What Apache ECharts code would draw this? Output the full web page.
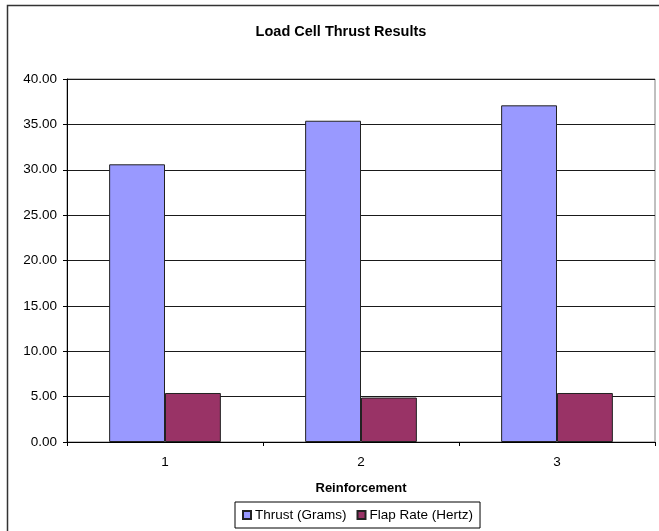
<!DOCTYPE html>
<html>
<head>
<meta charset="utf-8">
<style>
  html, body { margin: 0; padding: 0; background: #fff; }
  #chart { width: 659px; height: 531px; }
</style>
<script src="https://cdn.jsdelivr.net/npm/echarts@6/dist/echarts.min.js"></script>
</head>
<body>
<div id="chart"></div>
<script>
// Load cell measurements per reinforcement configuration
const categories = ['1', '2', '3'];
const thrustGrams = [30.6, 35.4, 37.1];
const flapRateHertz = [5.4, 4.9, 5.4];
const seriesNames = ['Thrust (Grams)', 'Flap Rate (Hertz)'];
const yTicks = { min: 0, max: 40, step: 5 };

const FONT = '"Liberation Sans", Arial, sans-serif';

const chart = echarts.init(document.getElementById('chart'), null, { renderer: 'canvas' });

chart.setOption({
  animation: false,
  backgroundColor: '#fff',
  textStyle: { fontFamily: FONT, color: '#000' },
  title: {
    text: 'Load Cell Thrust Results',
    left: 336,
    textAlign: 'center',
    top: 19,
    textStyle: { fontFamily: FONT, fontSize: 14.5, fontWeight: 'bold', color: '#000' }
  },
  legend: {
    data: seriesNames,
    left: 235,
    top: 502,
    width: 243,
    padding: [6, 7, 6, 7],
    itemGap: 10,
    itemWidth: 8,
    itemHeight: 8,
    icon: 'rect',
    borderColor: '#000',
    borderWidth: 1,
    textStyle: { fontFamily: FONT, fontSize: 13.5, color: '#000', padding: [0, 0, 0, -1] }
  },
  grid: {
    left: 67,
    right: 4,
    top: 79,
    bottom: 89,
    show: true,
    borderColor: '#808080',
    borderWidth: 1,
    backgroundColor: '#fff',
    containLabel: false
  },
  xAxis: {
    type: 'category',
    data: categories,
    name: 'Reinforcement',
    nameLocation: 'middle',
    nameGap: 40,
    nameTextStyle: { fontFamily: FONT, fontSize: 13, fontWeight: 'bold', color: '#000' },
    axisLine: { lineStyle: { color: '#000', width: 1 } },
    axisTick: { show: true, length: 4, lineStyle: { color: '#000' } },
    axisLabel: { margin: 13, fontFamily: FONT, fontSize: 13.5, color: '#000' },
    splitLine: { show: false }
  },
  yAxis: {
    type: 'value',
    min: yTicks.min,
    max: yTicks.max,
    interval: yTicks.step,
    axisLine: { show: true, lineStyle: { color: '#000', width: 1 } },
    axisTick: { show: true, length: 4, lineStyle: { color: '#000' } },
    axisLabel: {
      margin: 10,
      fontFamily: FONT,
      fontSize: 13.5,
      color: '#000',
      formatter: v => v.toFixed(2)
    },
    splitLine: { show: true, lineStyle: { color: '#1a1a1a', width: 1 } }
  },
  series: [
    {
      name: seriesNames[0],
      type: 'bar',
      data: thrustGrams,
      barGap: '0%',
      barCategoryGap: '43%',
      itemStyle: { color: '#9999FF', borderColor: '#222', borderWidth: 1 }
    },
    {
      name: seriesNames[1],
      type: 'bar',
      data: flapRateHertz,
      barGap: '0%',
      barCategoryGap: '43%',
      itemStyle: { color: '#993366', borderColor: '#222', borderWidth: 1 }
    }
  ],
  graphic: [
    {
      type: 'rect',
      silent: true,
      z: 100,
      shape: { x: 7.5, y: 5.5, width: 700, height: 600 },
      style: { fill: 'none', stroke: '#333', lineWidth: 1.5 }
    }
  ]
});
</script>
</body>
</html>
